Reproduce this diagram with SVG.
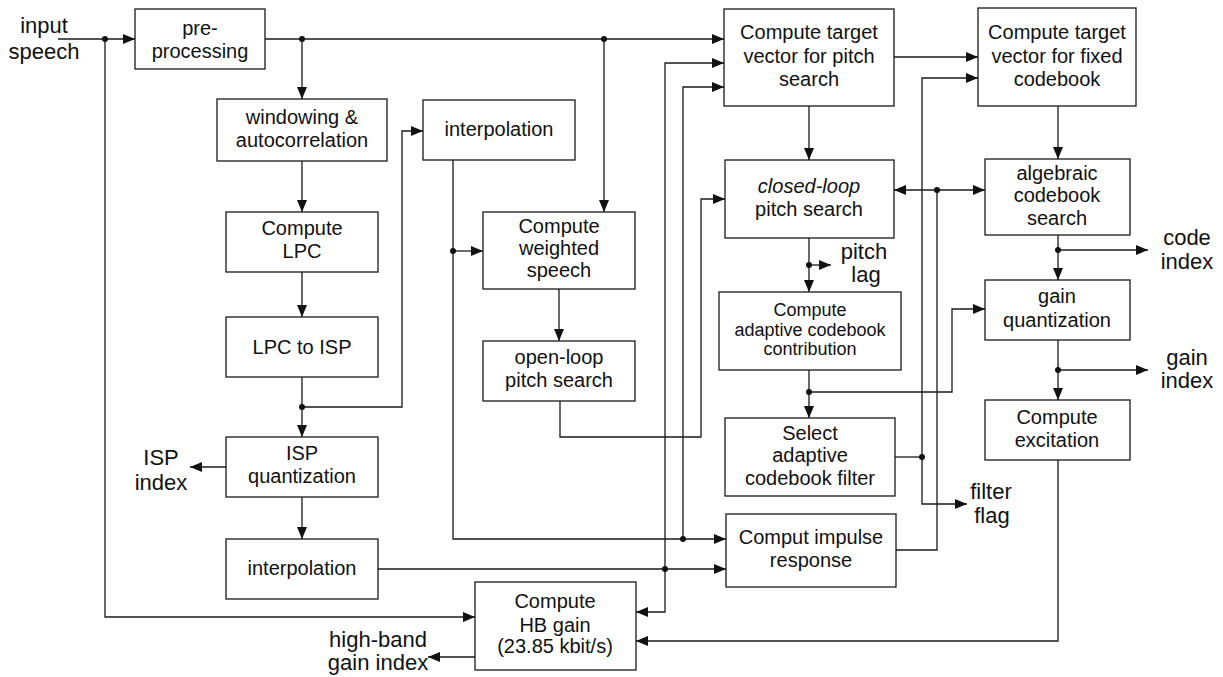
<svg xmlns="http://www.w3.org/2000/svg" width="1223" height="677" viewBox="0 0 1223 677">
<style>
.box{fill:#fff;stroke:#1a1a1a;stroke-width:1.3}
.t{font-family:"Liberation Sans",Arial,sans-serif;font-size:20px;fill:#111;text-anchor:middle}
.s{font-size:18px}
.lbl{font-family:"Liberation Sans",Arial,sans-serif;font-size:22px;fill:#111;text-anchor:middle}
.c path{fill:none;stroke:#1a1a1a;stroke-width:1.3}
.c .a{marker-end:url(#ah)}
.dot{fill:#111}
</style>
<defs>
<marker id="ah" markerUnits="userSpaceOnUse" markerWidth="13" markerHeight="11" refX="12" refY="5" orient="auto-start-reverse">
<path d="M0,0 L12,5 L0,10 Z" fill="#111"/>
</marker>
</defs>
<rect width="1223" height="677" fill="#fff"/>

<g id="connectors" class="c">
<path class="a" d="M58,39 H135"/>
<path class="a" d="M105,39 V617 H475"/>
<path class="a" d="M265,39 H724"/>
<path class="a" d="M302,39 V99"/>
<path class="a" d="M604,39 V212"/>
<path class="a" d="M302,161 V212"/>
<path class="a" d="M302,272 V317"/>
<path class="a" d="M302,377 V437"/>
<path class="a" d="M302,407 H402 V131 H423"/>
<path class="a" d="M302,497 V539"/>
<path class="a" d="M226,467 H190"/>
<path class="a" d="M378,569 H726"/>
<path class="a" d="M665,569 V63 H724"/>
<path class="a" d="M665,569 V612 H636"/>
<path class="a" d="M453,160 V539 H726"/>
<path class="a" d="M453,251 H483"/>
<path class="a" d="M559,289 V341"/>
<path class="a" d="M683,539 V87 H724"/>
<path class="a" d="M560,401 V437 H701 V199 H725"/>
<path class="a" d="M809,106 V160"/>
<path class="a" d="M894,57 H978"/>
<path d="M895,457 H922"/>
<path class="a" d="M922,457 V78 H978"/>
<path class="a" d="M922,457 V504 H967"/>
<path d="M896,550 H937 V190"/>
<path class="a" d="M937,190 H894"/>
<path class="a" d="M937,190 H985"/>
<path class="a" d="M809,238 V292"/>
<path class="a" d="M809,265 H831"/>
<path class="a" d="M809,370 V418"/>
<path class="a" d="M809,392 H952 V309 H985"/>
<path class="a" d="M1058,106 V159"/>
<path class="a" d="M1058,235 V280"/>
<path class="a" d="M1058,250 H1148"/>
<path class="a" d="M1058,340 V400"/>
<path class="a" d="M1058,370 H1148"/>
<path class="a" d="M1058,460 V641 H636"/>
<path class="a" d="M475,657 H428"/>
<circle class="dot" cx="105" cy="39" r="3"/>
<circle class="dot" cx="302" cy="39" r="3"/>
<circle class="dot" cx="604" cy="39" r="3"/>
<circle class="dot" cx="302" cy="407" r="3"/>
<circle class="dot" cx="453" cy="251" r="3"/>
<circle class="dot" cx="683" cy="539" r="3"/>
<circle class="dot" cx="665" cy="569" r="3"/>
<circle class="dot" cx="809" cy="265" r="3"/>
<circle class="dot" cx="809" cy="392" r="3"/>
<circle class="dot" cx="922" cy="457" r="3"/>
<circle class="dot" cx="937" cy="190" r="3"/>
<circle class="dot" cx="1058" cy="250" r="3"/>
<circle class="dot" cx="1058" cy="370" r="3"/>
</g>

<g id="pre-processing"><rect class="box" x="135" y="9" width="130" height="60"/><text class="t" x="200" y="35">pre-</text><text class="t" x="200" y="58">processing</text></g>
<g id="windowing"><rect class="box" x="217" y="99" width="170" height="62"/><text class="t" x="302" y="124">windowing &amp;</text><text class="t" x="302" y="147">autocorrelation</text></g>
<g id="compute-lpc"><rect class="box" x="226" y="212" width="152" height="60"/><text class="t" x="302" y="235">Compute</text><text class="t" x="302" y="258">LPC</text></g>
<g id="lpc-to-isp"><rect class="box" x="226" y="317" width="152" height="60"/><text class="t" x="302" y="354">LPC to ISP</text></g>
<g id="isp-quantization"><rect class="box" x="226" y="437" width="152" height="60"/><text class="t" x="302" y="460">ISP</text><text class="t" x="302" y="483">quantization</text></g>
<g id="interpolation-bottom"><rect class="box" x="226" y="539" width="152" height="60"/><text class="t" x="302" y="575">interpolation</text></g>
<g id="interpolation-top"><rect class="box" x="423" y="100" width="152" height="60"/><text class="t" x="499" y="136">interpolation</text></g>
<g id="weighted-speech"><rect class="box" x="483" y="212" width="152" height="77"/><text class="t" x="559" y="233">Compute</text><text class="t" x="559" y="255">weighted</text><text class="t" x="559" y="277">speech</text></g>
<g id="open-loop"><rect class="box" x="483" y="341" width="152" height="60"/><text class="t" x="559" y="364">open-loop</text><text class="t" x="559" y="387">pitch search</text></g>
<g id="target-pitch"><rect class="box" x="724" y="9" width="170" height="97"/><text class="t" x="809" y="39">Compute target</text><text class="t" x="809" y="63">vector for pitch</text><text class="t" x="809" y="86">search</text></g>
<g id="target-fixed"><rect class="box" x="978" y="8" width="158" height="98"/><text class="t" x="1057" y="39">Compute target</text><text class="t" x="1057" y="63">vector for fixed</text><text class="t" x="1057" y="86">codebook</text></g>
<g id="closed-loop"><rect class="box" x="725" y="160" width="169" height="78"/><text class="t" x="809" y="193" font-style="italic">closed-loop</text><text class="t" x="809" y="216">pitch search</text></g>
<g id="algebraic"><rect class="box" x="985" y="159" width="145" height="76"/><text class="t" x="1057" y="180">algebraic</text><text class="t" x="1057" y="202">codebook</text><text class="t" x="1057" y="225">search</text></g>
<g id="adaptive-contribution"><rect class="box" x="719" y="292" width="182" height="78"/><text class="t s" x="810" y="316">Compute</text><text class="t s" x="810" y="336">adaptive codebook</text><text class="t s" x="810" y="355">contribution</text></g>
<g id="gain-quantization"><rect class="box" x="985" y="280" width="145" height="60"/><text class="t" x="1057" y="303">gain</text><text class="t" x="1057" y="327">quantization</text></g>
<g id="select-filter"><rect class="box" x="725" y="418" width="170" height="78"/><text class="t" x="810" y="440">Select</text><text class="t" x="810" y="462">adaptive</text><text class="t" x="810" y="485">codebook filter</text></g>
<g id="compute-excitation"><rect class="box" x="985" y="400" width="145" height="60"/><text class="t" x="1057" y="424">Compute</text><text class="t" x="1057" y="447">excitation</text></g>
<g id="impulse-response"><rect class="box" x="726" y="514" width="170" height="73"/><text class="t" x="811" y="544">Comput impulse</text><text class="t" x="811" y="567">response</text></g>
<g id="hb-gain"><rect class="box" x="475" y="582" width="161" height="88"/><text class="t" x="555" y="608">Compute</text><text class="t" x="555" y="632">HB gain</text><text class="t" x="555" y="653">(23.85 kbit/s)</text></g>

<g id="labels">
<text class="lbl" x="44" y="33">input</text><text class="lbl" x="44" y="59">speech</text>
<text class="lbl" x="161" y="465">ISP</text><text class="lbl" x="161" y="490">index</text>
<text class="lbl" x="378" y="647">high-band</text><text class="lbl" x="378" y="670">gain index</text>
<text class="lbl" x="864" y="259">pitch</text><text class="lbl" x="866" y="282">lag</text>
<text class="lbl" x="991" y="499">filter</text><text class="lbl" x="992" y="523">flag</text>
<text class="lbl" x="1187" y="245">code</text><text class="lbl" x="1187" y="269">index</text>
<text class="lbl" x="1187" y="365">gain</text><text class="lbl" x="1187" y="388">index</text>
</g>
</svg>
